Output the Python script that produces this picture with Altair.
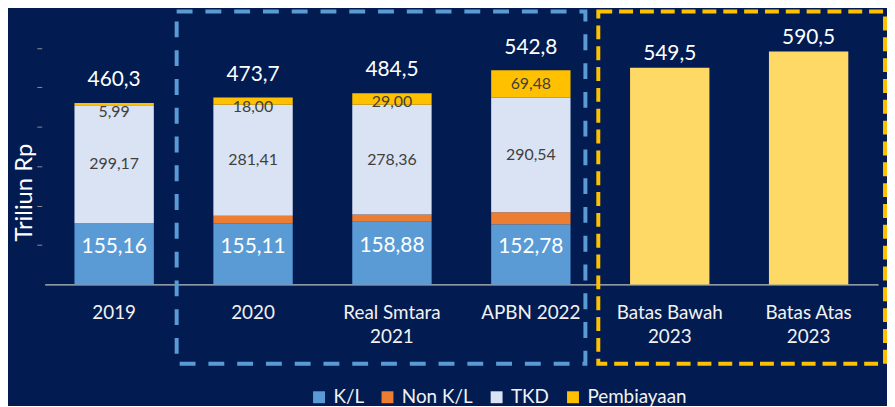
import altair as alt
import pandas as pd

# ---------------- data ----------------
categories = ["2019", "2020", "Real Smtara|2021", "APBN 2022", "Batas Bawah|2023", "Batas Atas|2023"]
stack_cats = categories[:4]
kl = [155.16, 155.11, 158.88, 152.78]
non_kl = [0.0, 19.18, 18.26, 30.00]
tkd = [299.17, 281.41, 278.36, 290.54]
pembiayaan = [5.99, 18.00, 29.00, 69.48]
totals = [460.3, 473.7, 484.5, 542.8]
batas_cats = categories[4:]
batas_vals = [549.5, 590.5]

series = ["K/L", "Non K/L", "TKD", "Pembiayaan"]
colors = ["#5B9BD5", "#ED7D31", "#DAE3F3", "#FFC000"]
batas_color = "#FFD966"

BG = "#021C52"
FONT = "Lato"


def fmt(v, d):
    return f"{v:.{d}f}".replace(".", ",")


# ---------------- build tables ----------------
rows = []
for i, cat in enumerate(stack_cats):
    base = 0.0
    for s, vals in zip(series, [kl, non_kl, tkd, pembiayaan]):
        v = vals[i]
        rows.append({"cat": cat, "series": s, "start": base, "end": base + v, "ord": len(rows)})
        base += v
for cat, v in zip(batas_cats, batas_vals):
    rows.append({"cat": cat, "series": "Batas", "start": 0.0, "end": v, "ord": len(rows)})
bars = pd.DataFrame(rows)

kl_lab = pd.DataFrame({"cat": stack_cats, "pos": [v / 2 for v in kl], "txt": [fmt(v, 2) for v in kl]})
tkd_lab = pd.DataFrame({
    "cat": stack_cats,
    "pos": [k + n + t / 2 for k, n, t in zip(kl, non_kl, tkd)],
    "txt": [fmt(v, 2) for v in tkd],
})
pemb_lab = pd.DataFrame({
    "cat": stack_cats,
    "pos": [min(tot - p / 2, tot - 22.7) for tot, p in zip(totals, pembiayaan)],
    "txt": [fmt(v, 2) for v in pembiayaan],
})
tot_lab = pd.DataFrame({"cat": stack_cats, "pos": totals, "txt": [fmt(v, 1) for v in totals]})
bat_lab = pd.DataFrame({"cat": batas_cats, "pos": batas_vals, "txt": [fmt(v, 1) for v in batas_vals]})

# ---------------- scales ----------------
x_scale = alt.Scale(domain=categories, paddingInner=0.4286, paddingOuter=0.2143)
y_scale = alt.Scale(domain=[0, 697], nice=False)

x_enc = alt.X(
    "cat:N",
    scale=x_scale,
    sort=categories,
    axis=alt.Axis(
        title=None,
        ticks=False,
        labelAngle=0,
        labelFont=FONT,
        labelFontSize=19,
        labelColor="#F2F2F2",
        labelPadding=19,
        labelLineHeight=25,
        labelExpr="split(datum.label, '|')",
        domainColor="#BFBFBF",
        domainWidth=1.5,
    ),
)

bar_layer = alt.Chart(bars).mark_bar().encode(
    x=x_enc,
    y=alt.Y(
        "start:Q",
        scale=y_scale,
        axis=alt.Axis(
            title="Triliun Rp",
            values=[100, 200, 300, 400, 500, 600],
            labels=False,
            domain=False,
            grid=False,
            offset=3,
            tickColor="#8C8C8C",
            tickSize=5,
            titleFont=FONT,
            titleFontSize=24,
            titleFontWeight="normal",
            titleColor="#FFFFFF",
            titleAngle=270,
            titleAlign="center",
            titleBaseline="middle",
            titleX=-17,
            titleY=184,
        ),
    ),
    y2="end:Q",
    color=alt.Color(
        "series:N",
        scale=alt.Scale(domain=series + ["Batas"], range=colors + [batas_color]),
        legend=alt.Legend(
            title=None,
            values=series,
            orient="none",
            legendX=267,
            legendY=381,
            direction="horizontal",
            symbolType="square",
            symbolSize=144,
            symbolStrokeWidth=0,
            labelFont=FONT,
            labelFontSize=19,
            labelColor="#F2F2F2",
            labelOffset=5,
            columnPadding=14,
        ),
    ),
    order=alt.Order("ord:Q"),
)


def text_layer(df, size, color, dy):
    return alt.Chart(df).mark_text(
        font=FONT, fontSize=size, color=color, baseline="middle", align="center", dy=dy
    ).encode(x=alt.X("cat:N", scale=x_scale, sort=categories), y=alt.Y("pos:Q", scale=y_scale), text="txt:N")


kl_text = text_layer(kl_lab, 21, "#FFFFFF", -7)
tkd_text = text_layer(tkd_lab, 16, "#404040", 0)
pemb_text = text_layer(pemb_lab, 16, "#404040", 0)
tot_text = text_layer(tot_lab, 21, "#FFFFFF", -23)
bat_text = text_layer(bat_lab, 21, "#FFFFFF", -14)

box_src = pd.DataFrame({"box": ["blue", "yellow"]})
blue_box = alt.Chart(box_src).transform_filter("datum.box == 'blue'").mark_rect(
    fill=None, stroke="#5B9BD5", strokeWidth=4, strokeDash=[16, 13]
).encode(x=alt.value(133), x2=alt.value(545), y=alt.value(2), y2=alt.value(357))
yellow_box = alt.Chart(box_src).transform_filter("datum.box == 'yellow'").mark_rect(
    fill=None, stroke="#FFC000", strokeWidth=4, strokeDash=[14, 7]
).encode(x=alt.value(558), x2=alt.value(847), y=alt.value(2), y2=alt.value(357))

chart = (
    alt.layer(bar_layer, kl_text, tkd_text, pemb_text, tot_text, bat_text, blue_box, yellow_box)
    .properties(
        width=840,
        height=277,
        background=BG,
        autosize=alt.AutoSizeParams(type="none"),
        padding={"left": 37, "top": 0, "right": 9, "bottom": 121},
    )
    .configure_view(stroke=None)
)

chart.save("out.html", embed_options={"renderer": "svg", "actions": False})
